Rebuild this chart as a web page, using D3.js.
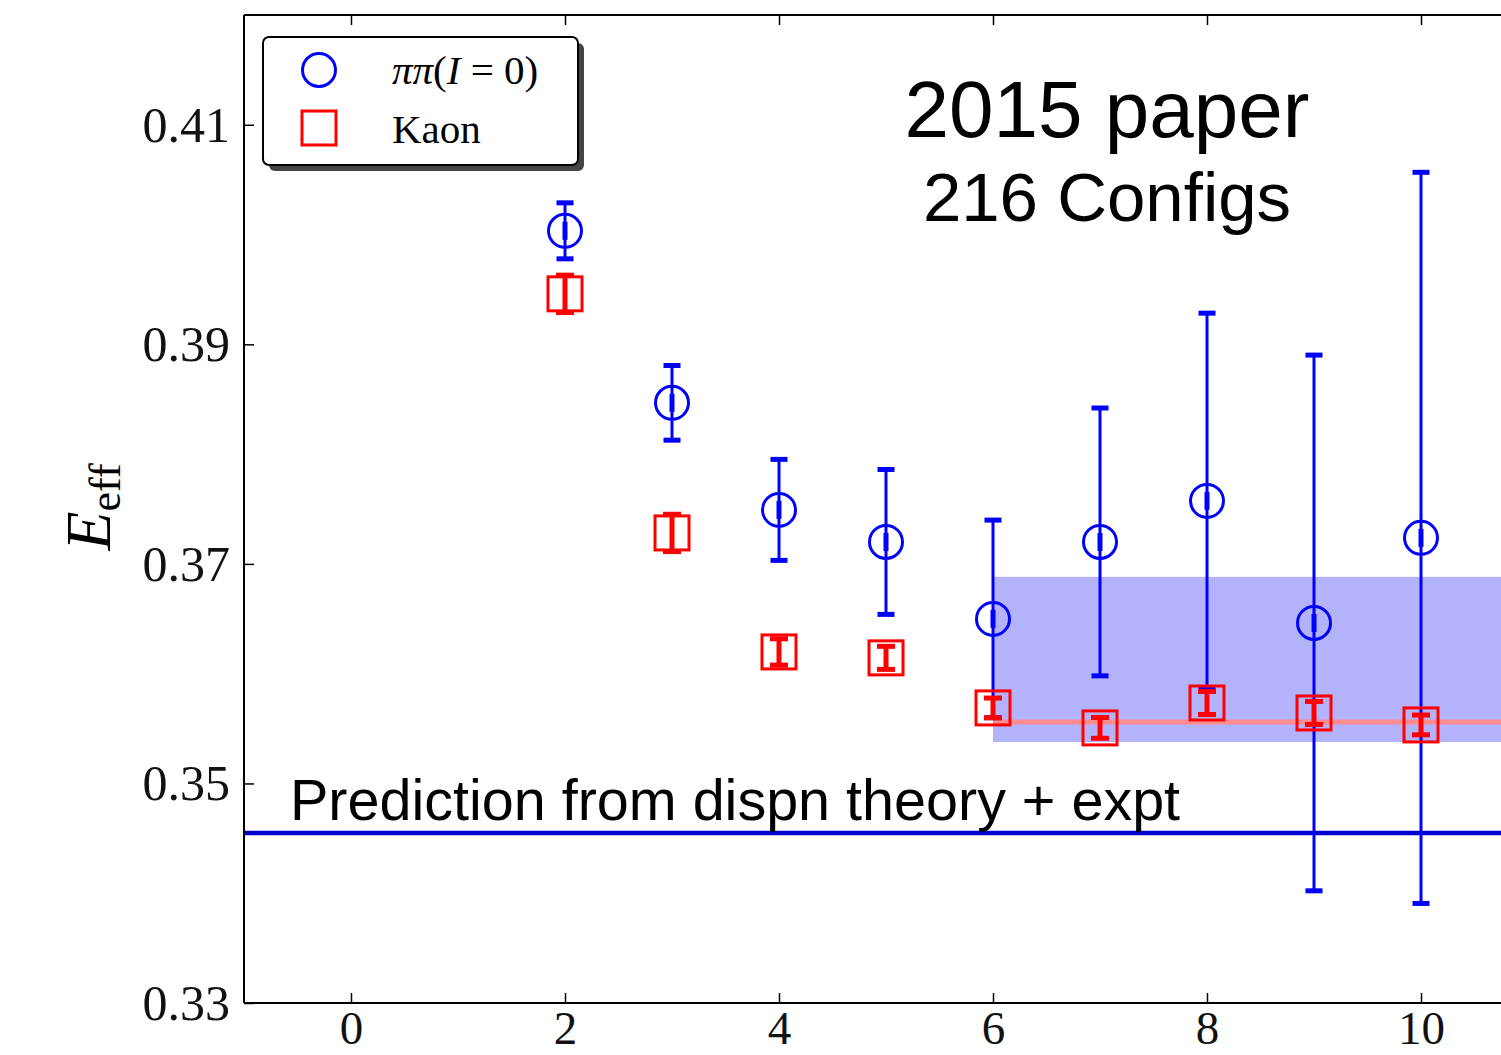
<!DOCTYPE html>
<html>
<head>
<meta charset="utf-8">
<script src="https://cdn.jsdelivr.net/npm/d3@7"></script>
<style>
  body { margin: 0; background: #fff; }
  svg { display: block; }
</style>
</head>
<body>
<svg width="1501" height="1055"></svg>
<script>
const svg = d3.select("svg");

// data
const tValues = [2, 3, 4, 5, 6, 7, 8, 9, 10];
const pipiE = [0.40034, 0.38467, 0.37492, 0.3720, 0.36499, 0.3720, 0.37574, 0.36462, 0.37237];
const pipiErr = [0.00255, 0.0034, 0.0046, 0.0066, 0.0090, 0.0122, 0.0171, 0.0244, 0.0333];
const kaonE = [0.3946, 0.37282, 0.36198, 0.36144, 0.35688, 0.35506, 0.35733, 0.35642, 0.35533];
const kaonErr = [0.0017, 0.0017, 0.0012, 0.00105, 0.0009, 0.00095, 0.00105, 0.00105, 0.0009];
const xTicks = [0, 2, 4, 6, 8, 10];
const yTicks = [0.33, 0.35, 0.37, 0.39, 0.41];
const fitRange = [6, 11];
const pipiBand = [0.35378, 0.36882];
const kaonFit = 0.3556;
const prediction = 0.34549;

// scales
const x = d3.scaleLinear().domain([-1, 11]).range([244, 244 + 12 * 107]);
const y = d3.scaleLinear().domain([0.33, 0.42]).range([1003, 15]);

const serif = "'Liberation Serif', 'DejaVu Serif', serif";
const sans = "'Liberation Sans', Arial, sans-serif";

// band and fit lines
svg.append("rect")
  .attr("x", x(fitRange[0]))
  .attr("y", y(pipiBand[1]))
  .attr("width", x(fitRange[1]) - x(fitRange[0]))
  .attr("height", y(pipiBand[0]) - y(pipiBand[1]))
  .attr("fill", "rgb(179,179,252)");

svg.append("line")
  .attr("x1", x(fitRange[0])).attr("x2", x(fitRange[1]))
  .attr("y1", y(kaonFit)).attr("y2", y(kaonFit))
  .attr("stroke", "rgb(255,140,145)")
  .attr("stroke-width", 5);

svg.append("line")
  .attr("x1", x(-1)).attr("x2", x(11))
  .attr("y1", y(prediction)).attr("y2", y(prediction))
  .attr("stroke", "#0000d0")
  .attr("stroke-width", 4.5);

// error bars + markers
function drawSeries(vals, errs, color, capW, shape) {
  const g = svg.append("g");
  tValues.forEach((t, i) => {
    const cx = x(t), cy = y(vals[i]);
    const y0 = y(vals[i] - errs[i]), y1 = y(vals[i] + errs[i]);
    g.append("line")
      .attr("x1", cx).attr("x2", cx).attr("y1", y0).attr("y2", y1)
      .attr("stroke", color).attr("stroke-width", shape === "square" ? 5 : 3);
    [y0, y1].forEach(yy => {
      g.append("line")
        .attr("x1", cx - capW / 2).attr("x2", cx + capW / 2)
        .attr("y1", yy).attr("y2", yy)
        .attr("stroke", color).attr("stroke-width", 5);
    });
    if (shape === "circle") {
      g.append("line")
        .attr("x1", cx).attr("x2", cx).attr("y1", cy - 9).attr("y2", cy + 9)
        .attr("stroke", color).attr("stroke-width", 5);
      g.append("circle")
        .attr("cx", cx).attr("cy", cy).attr("r", 16.5)
        .attr("fill", "none").attr("stroke", color).attr("stroke-width", 3);
    } else {
      g.append("rect")
        .attr("x", cx - 17).attr("y", cy - 17).attr("width", 34).attr("height", 34)
        .attr("fill", "none").attr("stroke", color).attr("stroke-width", 3);
    }
  });
}
drawSeries(pipiE, pipiErr, "#0000ff", 17, "circle");
drawSeries(kaonE, kaonErr, "#ff0000", 18, "square");

// axes frame
const frame = svg.append("g").attr("stroke", "#000").attr("stroke-width", 2);
frame.append("line").attr("x1", x(-1)).attr("x2", x(-1)).attr("y1", y(0.42)).attr("y2", y(0.33));
frame.append("line").attr("x1", x(-1)).attr("x2", 1501).attr("y1", y(0.33)).attr("y2", y(0.33));
frame.append("line").attr("x1", x(-1)).attr("x2", 1501).attr("y1", y(0.42)).attr("y2", y(0.42));

const xAxis = svg.append("g")
  .attr("transform", `translate(0,${y(0.33)})`)
  .call(d3.axisBottom(x).tickValues(xTicks).tickSizeInner(-10).tickSizeOuter(0).tickPadding(8).tickFormat(d3.format("d")));
const xTop = svg.append("g")
  .attr("transform", `translate(0,${y(0.42)})`)
  .call(d3.axisTop(x).tickValues(xTicks).tickSizeInner(-10).tickSizeOuter(0).tickFormat(""));
const yAxis = svg.append("g")
  .attr("transform", `translate(${x(-1)},0)`)
  .call(d3.axisLeft(y).tickValues(yTicks).tickSizeInner(-10).tickSizeOuter(0).tickPadding(14).tickFormat(d3.format(".2f")));

[xAxis, xTop, yAxis].forEach(a => {
  a.select(".domain").remove();
  a.selectAll(".tick line").attr("stroke", "#000").attr("stroke-width", 1.5);
  a.selectAll("text").attr("font-family", serif).attr("font-size", 50).attr("fill", "#111");
});
xAxis.selectAll("text").attr("font-size", 47);
yAxis.selectAll("text").attr("dy", "0.33em");

// axis label
svg.append("text")
  .attr("transform", "translate(110,507) rotate(-90)")
  .attr("text-anchor", "middle")
  .attr("font-family", serif)
  .attr("font-size", 64)
  .call(t => {
    t.append("tspan").attr("font-style", "italic").text("E");
    t.append("tspan").attr("font-size", 44).attr("dy", 10).text("eff");
  });

// annotations
svg.append("text")
  .attr("x", 290).attr("y", 820)
  .attr("font-family", sans).attr("font-size", 57.5)
  .text("Prediction from dispn theory + expt");
svg.append("text")
  .attr("x", 1107).attr("y", 137)
  .attr("text-anchor", "middle")
  .attr("font-family", sans).attr("font-size", 80)
  .text("2015 paper");
svg.append("text")
  .attr("x", 1107).attr("y", 221)
  .attr("text-anchor", "middle")
  .attr("font-family", sans).attr("font-size", 69)
  .text("216 Configs");

// legend
const lg = svg.append("g");
lg.append("rect")
  .attr("x", 269).attr("y", 43).attr("width", 315).attr("height", 128).attr("rx", 6)
  .attr("fill", "#444");
lg.append("rect")
  .attr("x", 263).attr("y", 37).attr("width", 315).attr("height", 128).attr("rx", 6)
  .attr("fill", "#fff").attr("stroke", "#000").attr("stroke-width", 2);
lg.append("circle")
  .attr("cx", 319).attr("cy", 70).attr("r", 16.5)
  .attr("fill", "none").attr("stroke", "#0000ff").attr("stroke-width", 3);
lg.append("rect")
  .attr("x", 302).attr("y", 111).attr("width", 34).attr("height", 34)
  .attr("fill", "none").attr("stroke", "#ff0000").attr("stroke-width", 3);
lg.append("text")
  .attr("x", 392).attr("y", 84)
  .attr("font-family", serif).attr("font-size", 41)
  .call(t => {
    t.append("tspan").attr("font-style", "italic").text("ππ");
    t.append("tspan").text("(");
    t.append("tspan").attr("font-style", "italic").text("I");
    t.append("tspan").text("\u2005=\u20050)");
  });
lg.append("text")
  .attr("x", 392).attr("y", 143)
  .attr("font-family", serif).attr("font-size", 41)
  .text("Kaon");
</script>
</body>
</html>
